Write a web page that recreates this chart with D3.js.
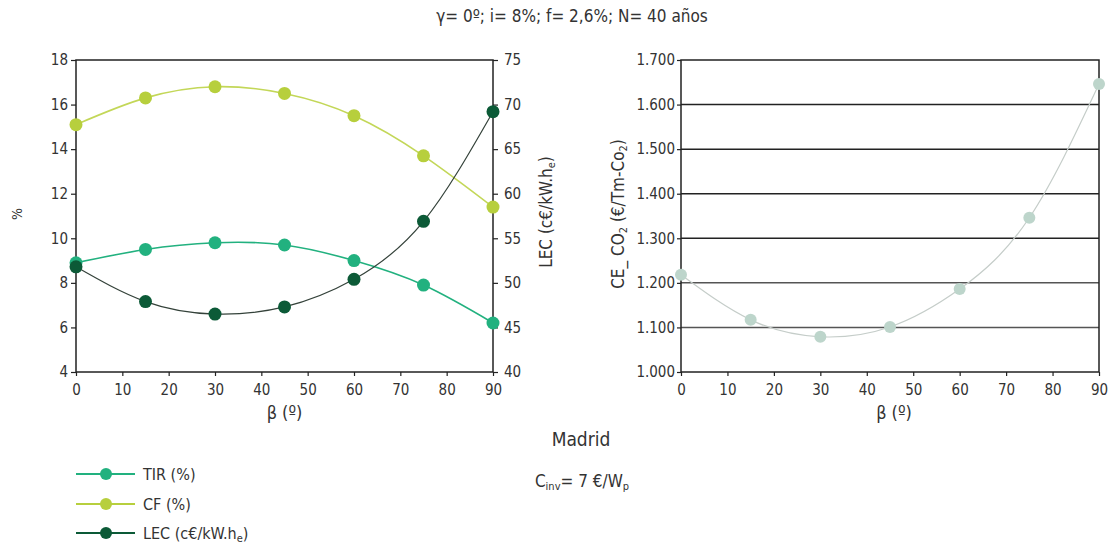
<!DOCTYPE html>
<html>
<head>
<meta charset="utf-8">
<script src="https://cdn.jsdelivr.net/npm/d3@7"></script>
<style>
  body { margin: 0; background: #fff; }
  svg text { font-family: "DejaVu Sans Condensed", "DejaVu Sans", sans-serif; font-stretch: condensed; fill: #333; }
</style>
</head>
<body>
<div id="vis"></div>
<script>
// data
const betas = [0, 15, 30, 45, 60, 75, 90];
const tir = [8.9, 9.5, 9.8, 9.7, 9.0, 7.9, 6.2];
const cf = [15.1, 16.3, 16.8, 16.5, 15.5, 13.7, 11.4];
const lec = [51.8, 47.9, 46.5, 47.3, 50.4, 56.9, 69.2];
const ceco2 = [1218, 1117, 1079, 1101, 1186, 1346, 1646];

const xTicks = [0, 10, 20, 30, 40, 50, 60, 70, 80, 90];
const pctTicks = [4, 6, 8, 10, 12, 14, 16, 18];
const lecTicks = [40, 45, 50, 55, 60, 65, 70, 75];
const ceTicks = [1000, 1100, 1200, 1300, 1400, 1500, 1600, 1700];

const legendNames = ['TIR (%)', 'CF (%)', 'LEC (c€/kW.h'];

const W = 1110, H = 548;
const LEFT = {x0: 76, x1: 493, y0: 60, y1: 372};
const RIGHT = {x0: 681, x1: 1099, y0: 60, y1: 372};

const COL_TIR = '#22b17f', COL_CF = '#b7cf3d', COL_LEC = '#0c5a37';
const COL_CE = '#bdd5cb';

const es = d3.formatLocale({decimal: ',', thousands: '.', grouping: [3], currency: ['', '€']});
const fmtCE = es.format(',d');

const svg = d3.select('#vis').append('svg')
  .attr('width', W).attr('height', H);

// title
svg.append('text')
  .attr('x', 572).attr('y', 22)
  .attr('text-anchor', 'middle')
  .attr('font-size', 17)
  .text('γ= 0º; i= 8%; f= 2,6%; N= 40 años');

// ---------- left chart ----------
const X1 = d3.scaleLinear().domain([0, 90]).range([LEFT.x0, LEFT.x1]);
const Y_PCT = d3.scaleLinear().domain([4, 18]).range([LEFT.y1, LEFT.y0]);
const Y_LEC = d3.scaleLinear().domain([40, 75]).range([LEFT.y1, LEFT.y0]);

const gL = svg.append('g');

gL.append('rect')
  .attr('x', LEFT.x0).attr('y', LEFT.y0)
  .attr('width', LEFT.x1 - LEFT.x0).attr('height', LEFT.y1 - LEFT.y0)
  .attr('fill', 'none').attr('stroke', '#222').attr('stroke-width', 1.5);

function styleAxis(g) {
  g.select('.domain').remove();
  g.selectAll('line').attr('stroke', '#222').attr('stroke-width', 1.2);
  g.selectAll('text').attr('font-size', 15).attr('fill', '#333');
}

gL.append('g')
  .attr('transform', 'translate(0,' + LEFT.y1 + ')')
  .call(d3.axisBottom(X1).tickValues(xTicks).tickSize(4).tickPadding(8))
  .call(styleAxis);

gL.append('g')
  .attr('transform', 'translate(' + LEFT.x0 + ',0)')
  .call(d3.axisLeft(Y_PCT).tickValues(pctTicks).tickSize(5).tickPadding(3))
  .call(styleAxis);

gL.append('g')
  .attr('transform', 'translate(' + LEFT.x1 + ',0)')
  .call(d3.axisRight(Y_LEC).tickValues(lecTicks).tickSize(5).tickPadding(6))
  .call(styleAxis);

gL.append('text')
  .attr('transform', 'translate(22,214) rotate(-90)')
  .attr('text-anchor', 'middle').attr('font-size', 14)
  .text('%');

const lecLbl = gL.append('text')
  .attr('transform', 'translate(552,212) rotate(-90)')
  .attr('text-anchor', 'middle').attr('font-size', 17);
lecLbl.append('tspan').text('LEC (c€/kW.h');
lecLbl.append('tspan').attr('font-size', 11).attr('dy', 3).text('e');
lecLbl.append('tspan').attr('dy', -3).text(')');

gL.append('text')
  .attr('x', (LEFT.x0 + LEFT.x1) / 2).attr('y', 419)
  .attr('text-anchor', 'middle').attr('font-size', 18)
  .text('β (º)');

const series = [
  {vals: tir, y: Y_PCT, col: COL_TIR, line: COL_TIR, lw: 1.6},
  {vals: cf, y: Y_PCT, col: COL_CF, line: '#c3d758', lw: 1.6},
  {vals: lec, y: Y_LEC, col: COL_LEC, line: '#34423a', lw: 1.2}
];

series.forEach(s => {
  const pts = betas.map((b, i) => [b, s.vals[i]]);
  const line = d3.line()
    .x(d => X1(d[0])).y(d => s.y(d[1]))
    .curve(d3.curveNatural);
  gL.append('path')
    .attr('d', line(pts))
    .attr('fill', 'none').attr('stroke', s.line).attr('stroke-width', s.lw);
  gL.selectAll(null)
    .data(pts)
    .enter()
    .append('circle')
      .attr('cx', d => X1(d[0]))
      .attr('cy', d => s.y(d[1]))
      .attr('r', 6.5)
      .attr('fill', s.col);
});

// ---------- right chart ----------
const X2 = d3.scaleLinear().domain([0, 90]).range([RIGHT.x0, RIGHT.x1]);
const Y_CE = d3.scaleLinear().domain([1000, 1700]).range([RIGHT.y1, RIGHT.y0]);

const gR = svg.append('g');

gR.selectAll('.grid')
  .data(ceTicks.slice(1, -1))
  .enter()
  .append('line')
    .attr('x1', RIGHT.x0).attr('x2', RIGHT.x1)
    .attr('y1', d => Y_CE(d)).attr('y2', d => Y_CE(d))
    .attr('stroke', d => d <= 1200 ? '#555' : '#222')
    .attr('stroke-width', 1.5);

gR.append('rect')
  .attr('x', RIGHT.x0).attr('y', RIGHT.y0)
  .attr('width', RIGHT.x1 - RIGHT.x0).attr('height', RIGHT.y1 - RIGHT.y0)
  .attr('fill', 'none').attr('stroke', '#222').attr('stroke-width', 1.5);

gR.append('g')
  .attr('transform', 'translate(0,' + RIGHT.y1 + ')')
  .call(d3.axisBottom(X2).tickValues(xTicks).tickSize(4).tickPadding(8))
  .call(styleAxis);

gR.append('g')
  .attr('transform', 'translate(' + RIGHT.x0 + ',0)')
  .call(d3.axisLeft(Y_CE).tickValues(ceTicks).tickFormat(fmtCE).tickSize(4).tickPadding(2))
  .call(styleAxis);

const ceLbl = gR.append('text')
  .attr('transform', 'translate(624,214) rotate(-90)')
  .attr('text-anchor', 'middle').attr('font-size', 17);
ceLbl.append('tspan').text('CE_ CO');
ceLbl.append('tspan').attr('font-size', 11).attr('dy', 3).text('2');
ceLbl.append('tspan').attr('dy', -3).text(' (€/Tm-Co');
ceLbl.append('tspan').attr('font-size', 11).attr('dy', 3).text('2');
ceLbl.append('tspan').attr('dy', -3).text(')');

gR.append('text')
  .attr('x', (RIGHT.x0 + RIGHT.x1) / 2 + 4).attr('y', 419)
  .attr('text-anchor', 'middle').attr('font-size', 18)
  .text('β (º)');

const cePts = betas.map((b, i) => [b, ceco2[i]]);
gR.append('path')
  .attr('d', d3.line().x(d => X2(d[0])).y(d => Y_CE(d[1])).curve(d3.curveNatural)(cePts))
  .attr('fill', 'none').attr('stroke', '#c5cdc9').attr('stroke-width', 1.2);
gR.selectAll(null)
  .data(cePts)
  .enter()
  .append('circle')
    .attr('cx', d => X2(d[0]))
    .attr('cy', d => Y_CE(d[1]))
    .attr('r', 6)
    .attr('fill', COL_CE);

// ---------- bottom texts + legend ----------
svg.append('text')
  .attr('x', 581).attr('y', 446)
  .attr('text-anchor', 'middle').attr('font-size', 19)
  .text('Madrid');

const cinv = svg.append('text')
  .attr('x', 582).attr('y', 487)
  .attr('text-anchor', 'middle').attr('font-size', 17);
cinv.append('tspan').text('C');
cinv.append('tspan').attr('font-size', 11).attr('dy', 3).text('inv');
cinv.append('tspan').attr('dy', -3).text('= 7 €/W');
cinv.append('tspan').attr('font-size', 11).attr('dy', 3).text('p');

const legend = svg.append('g');
const legendY = [474, 504, 533];
series.forEach((s, i) => {
  const g = legend.append('g').attr('transform', 'translate(0,' + legendY[i] + ')');
  g.append('line')
    .attr('x1', 76).attr('x2', 135).attr('y1', 0).attr('y2', 0)
    .attr('stroke', s.col).attr('stroke-width', 2);
  g.append('circle').attr('cx', 106).attr('cy', 0).attr('r', 6).attr('fill', s.col);
  const t = g.append('text').attr('x', 143).attr('y', 6).attr('font-size', 16);
  t.append('tspan').text(legendNames[i]);
  if (i === 2) {
    t.append('tspan').attr('font-size', 11).attr('dy', 3).text('e');
    t.append('tspan').attr('dy', -3).text(')');
  }
});
</script>
</body>
</html>
